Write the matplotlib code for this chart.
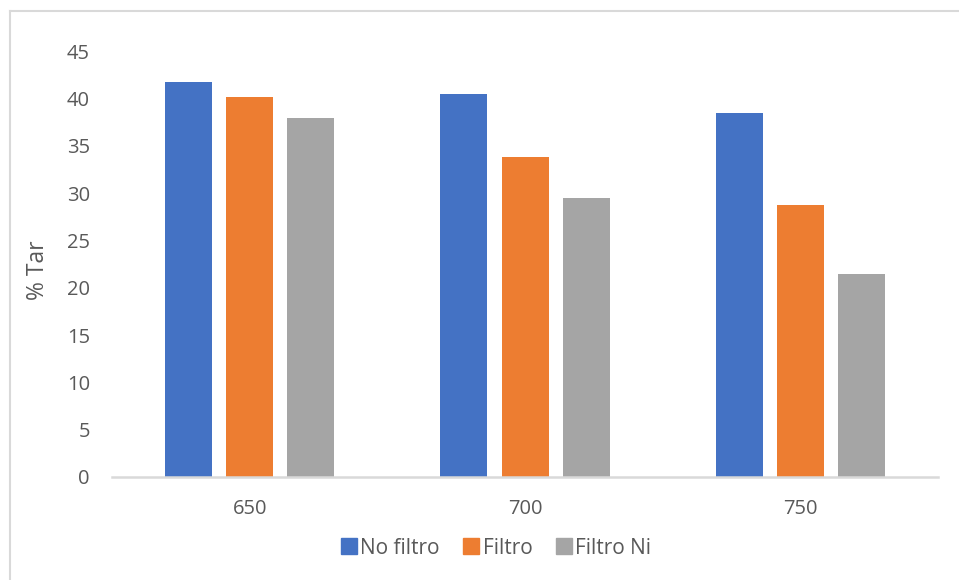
import numpy as np
import matplotlib
matplotlib.use("Agg")
import matplotlib.pyplot as plt
from matplotlib.lines import Line2D

# % de alquitrán por temperatura y configuración de filtro
temperaturas = ["650", "700", "750"]
series = ["No filtro", "Filtro", "Filtro Ni"]
no_filtro = [41.8, 40.5, 38.5]
filtro = [40.2, 33.8, 28.7]
filtro_ni = [37.9, 29.5, 21.5]
colores = ["#4472C4", "#ED7D31", "#A5A5A5"]
yticks = [0, 5, 10, 15, 20, 25, 30, 35, 40, 45]

plt.rcParams["font.family"] = ["Open Sans", "DejaVu Sans"]
GRIS = "#595959"

fig = plt.figure(figsize=(9.59, 5.8), dpi=100)
ax = fig.add_axes([0.117, 0.1776, 0.861, 0.734])

x = np.arange(len(temperaturas))
ancho = 0.171
paso = 0.222
for i, (nombre, vals) in enumerate(zip(series, [no_filtro, filtro, filtro_ni])):
    ax.bar(x + (i - 1) * paso, vals, width=ancho, color=colores[i],
           label=nombre, zorder=2)

ax.set_xlim(-0.5, 2.5)
ax.set_ylim(0, 45)
ax.set_yticks(yticks)
ax.set_xticks(x)
ax.set_xticklabels(temperaturas)
ax.tick_params(axis="both", length=0, colors=GRIS, labelsize=14.5)
ax.tick_params(axis="y", pad=16)
ax.tick_params(axis="x", pad=16)
for s in ["top", "right", "left"]:
    ax.spines[s].set_visible(False)
ax.spines["bottom"].set_color("#D9D9D9")
ax.spines["bottom"].set_linewidth(1.8)
ax.spines["bottom"].set_zorder(3)

fig.text(38 / 959, 1 - 270 / 580, "% Tar", rotation=90, ha="center",
         va="center", color=GRIS, fontsize=16.5)

handles = [Line2D([0], [0], marker="s", color="w", markerfacecolor=c,
                  markeredgecolor=c, markersize=11, label=n)
           for c, n in zip(colores, series)]
fig.legend(handles=handles, loc="center", bbox_to_anchor=(0.516, 1 - 548 / 580),
           ncol=3, frameon=False, fontsize=15, labelcolor=GRIS,
           handletextpad=0.05, columnspacing=1.0, handlelength=1.0)

# marco del área del gráfico (solo borde superior e izquierdo)
fig.add_artist(Line2D([9.5 / 959, 9.5 / 959], [0, 1 - 11 / 580],
                      color="#D9D9D9", lw=1.5, transform=fig.transFigure))
fig.add_artist(Line2D([9.5 / 959, 1], [1 - 11 / 580, 1 - 11 / 580],
                      color="#D9D9D9", lw=1.5, transform=fig.transFigure))

fig.savefig("out.png", dpi=100)
